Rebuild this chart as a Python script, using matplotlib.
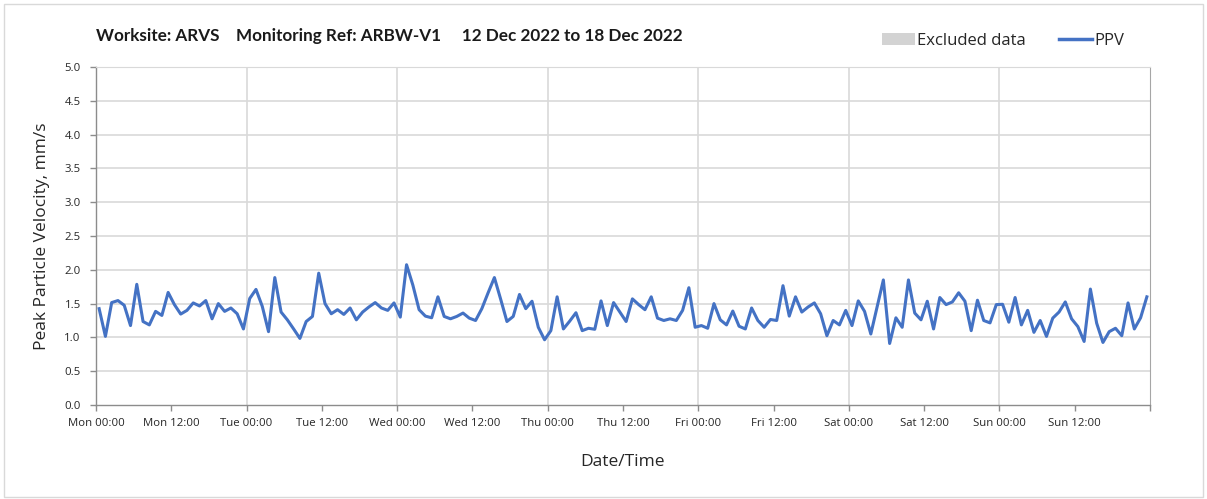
import matplotlib
matplotlib.use("Agg")
import matplotlib.pyplot as plt
import numpy as np
from matplotlib.patches import Rectangle, Patch
from matplotlib.lines import Line2D

# ---- data ----
title_text = "Worksite: ARVS    Monitoring Ref: ARBW-V1     12 Dec 2022 to 18 Dec 2022"
tick_labels = ["Mon 00:00", "Mon 12:00", "Tue 00:00", "Tue 12:00", "Wed 00:00", "Wed 12:00",
               "Thu 00:00", "Thu 12:00", "Fri 00:00", "Fri 12:00", "Sat 00:00", "Sat 12:00",
               "Sun 00:00", "Sun 12:00", ""]
sample_offset_h = 0.5   # hourly samples, half-hour offset
ppv = [
    1.425, 1.015, 1.515, 1.545, 1.475, 1.175, 1.785, 1.235, 1.185, 1.385, 1.325, 1.665,
    1.485, 1.345, 1.40, 1.51, 1.465, 1.545, 1.275, 1.50, 1.385, 1.435, 1.35, 1.125,
    1.575, 1.71, 1.46, 1.085, 1.885, 1.375, 1.26, 1.125, 0.985, 1.235, 1.31, 1.95,
    1.50, 1.35, 1.41, 1.34, 1.435, 1.26, 1.375, 1.45, 1.515, 1.435, 1.40, 1.51,
    1.30, 2.075, 1.775, 1.41, 1.315, 1.29, 1.60, 1.31, 1.275, 1.31, 1.36, 1.285,
    1.25, 1.425, 1.66, 1.885, 1.565, 1.235, 1.31, 1.635, 1.425, 1.535, 1.15, 0.965,
    1.10, 1.60, 1.125, 1.24, 1.365, 1.10, 1.135, 1.12, 1.54, 1.175, 1.515, 1.375,
    1.235, 1.57, 1.485, 1.41, 1.60, 1.285, 1.25, 1.275, 1.25, 1.40, 1.735, 1.15,
    1.175, 1.135, 1.50, 1.26, 1.185, 1.39, 1.165, 1.125, 1.435, 1.25, 1.15, 1.265,
    1.25, 1.765, 1.315, 1.60, 1.375, 1.45, 1.51, 1.35, 1.025, 1.25, 1.185, 1.40,
    1.175, 1.54, 1.385, 1.05, 1.45, 1.85, 0.91, 1.29, 1.15, 1.85, 1.36, 1.26,
    1.535, 1.125, 1.59, 1.485, 1.525, 1.66, 1.535, 1.10, 1.55, 1.25, 1.215, 1.485,
    1.49, 1.225, 1.59, 1.185, 1.40, 1.075, 1.25, 1.015, 1.285, 1.375, 1.525, 1.275,
    1.16, 0.94, 1.715, 1.21, 0.925, 1.085, 1.135, 1.025, 1.51, 1.125, 1.29, 1.60,
]
hours = np.arange(len(ppv)) + sample_offset_h

# ---- figure ----
W, H = 1207, 499
fig = plt.figure(figsize=(W / 100, H / 100), dpi=100)
fig.patches.append(Rectangle((4 / W, 2 / H), 1 - 8 / W, 1 - 6 / H, transform=fig.transFigure,
                             fill=False, edgecolor="#d9d9d9", linewidth=1))

ax = fig.add_axes([96 / W, 1 - 405 / H, (1150 - 96) / W, (405 - 67) / H])
ax.plot(hours, ppv, color="#4472C4", linewidth=2.2, solid_joinstyle="round")

ax.set_xlim(0, 168)
ax.set_ylim(0, 5)
ax.set_yticks(np.arange(0, 5.01, 0.5))
ax.set_yticklabels([f"{v:.1f}" for v in np.arange(0, 5.01, 0.5)])
ax.set_xticks(np.arange(0, 169, 12))
ax.set_xticklabels(tick_labels)

# gridlines: horizontal every 0.5, vertical only daily
for y in np.arange(0.5, 5.01, 0.5):
    ax.axhline(y, color="#d9d9d9", linewidth=1.2, zorder=0)
for x in np.arange(24, 168, 24):
    ax.axvline(x, color="#d9d9d9", linewidth=1.2, zorder=0)

for s in ["left", "bottom"]:
    ax.spines[s].set_color("#8c8c8c")
    ax.spines[s].set_linewidth(1.0)
ax.spines["right"].set_color("#a6a6a6")
ax.spines["top"].set_color("#d9d9d9")
ax.tick_params(axis="both", colors="#8c8c8c", length=4, width=1, labelcolor="#262626",
               labelsize=8.2)
ax.tick_params(axis="x", pad=5)
ax.tick_params(axis="y", pad=7)
for lbl in ax.get_xticklabels() + ax.get_yticklabels():
    lbl.set_family("Open Sans")

ax.set_ylabel("Peak Particle Velocity, mm/s", family="Open Sans", fontsize=12.5,
              color="#262626", labelpad=10)
ax.set_xlabel("Date/Time", family="Open Sans", fontsize=12.5, color="#262626", labelpad=18)

fig.text(96 / W, 1 - 36 / H, title_text, family="Lato", fontweight="bold", fontsize=12.3,
         color="#1a1a1a", va="center", ha="left")

handles = [Patch(facecolor="#d3d3d3", edgecolor="none", label="Excluded data"),
           Line2D([0], [0], color="#4472C4", linewidth=2.5, label="PPV")]
leg = fig.legend(handles=handles, loc="center", bbox_to_anchor=(1003 / W, 1 - 41 / H),
                 ncol=2, frameon=False, handlelength=2.0, handletextpad=0.1,
                 columnspacing=2.0, prop={"family": "Open Sans", "size": 12})
for t in leg.get_texts():
    t.set_color("#262626")

fig.savefig("out.png", dpi=100)
